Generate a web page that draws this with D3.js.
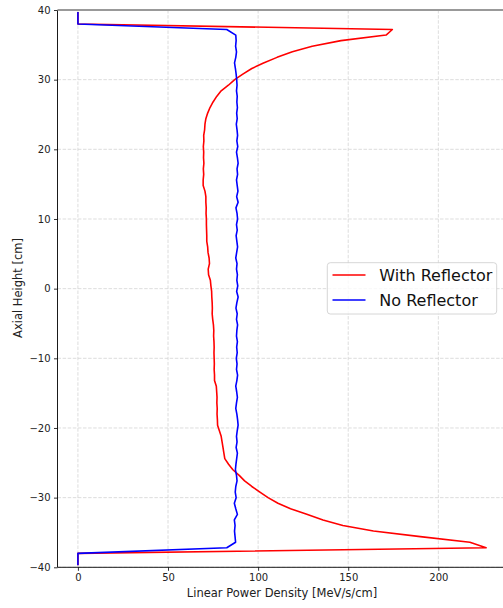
<!DOCTYPE html>
<html><head><meta charset="utf-8">
<script src="https://cdn.jsdelivr.net/npm/d3@7/dist/d3.min.js"></script>
<style>body{margin:0;background:#fff}svg{display:block;font-family:"DejaVu Sans",sans-serif}</style>
</head><body><svg id="c" width="503" height="608"></svg>
<script>
// Axial positions [cm]
const zPos = [39.7, 38.0, 37.2, 36.4, 35.6, 34.8, 34.0, 33.2, 32.4, 31.6, 30.8, 30.0, 29.2, 28.4, 27.6, 26.8, 26.0, 25.2, 24.4, 23.6, 22.8, 22.0, 21.2, 20.4, 19.6, 18.8, 18.0, 17.2, 16.4, 15.6, 14.8, 14.0, 13.2, 12.4, 11.6, 10.8, 10.0, 9.2, 8.4, 7.6, 6.8, 6.0, 5.2, 4.4, 3.6, 2.8, 2.0, 1.2, 0.4,
  -0.4, -1.2, -2.0, -2.8, -3.6, -4.4, -5.2, -6.0, -6.8, -7.6, -8.4, -9.2, -10.0, -10.8, -11.6, -12.4, -13.2, -14.0, -14.8, -15.6, -16.4, -17.2, -18.0, -18.8, -19.6, -20.4, -21.2, -22.0, -22.8, -23.6, -24.4, -25.2, -26.0, -26.8, -27.6, -28.4, -29.2, -30.0, -30.8, -31.6, -32.4, -33.2, -34.0, -34.8, -35.6, -36.4, -37.2, -38.0, -39.7];
// Linear power density, with reflector [MeV/s/cm]
const withReflector = [0, 0, 174.5, 171, 146, 130, 119, 110.5, 103, 96.5, 91.5, 87, 83.5, 79.5, 77, 75, 73.3, 72, 71, 70.5, 70.3, 69.8, 69.9, 69.6, 69.8, 69.7, 69.9, 69.6, 69.8, 69.5, 69.5, 70.5, 71.0, 71.0, 71.2, 71.1, 71.3, 71.3, 71.4, 71.5, 71.5, 72.0, 72.2, 72.8, 73.0, 72.3, 72.5, 73.5, 73.8,
  74.2, 74.3, 74.5, 74.6, 74.5, 74.8, 75.2, 75.4, 75.3, 75.5, 75.6, 75.5, 75.6, 75.7, 75.6, 75.8, 75.8, 76.8, 77.0, 77.2, 77.1, 77.3, 77.2, 77.4, 77.5, 78.5, 79.5, 80.0, 80.5, 81.0, 81.5, 83.6, 86.0, 89.5, 92.5, 96.5, 101, 105.5, 111, 118, 127, 136, 147, 164, 190, 217.5, 226.5, 0, 0];
// Linear power density, no reflector [MeV/s/cm]
const noReflector = [0, 0, 82.6, 87.6, 87.8, 87.5, 88.0, 87.6, 86.9, 87.4, 87.8, 88.1, 88.3, 88.0, 88.4, 88.2, 88.5, 88.1, 88.4, 87.9, 88.3, 88.6, 88.2, 88.7, 88.0, 88.5, 88.9, 88.3, 88.6, 88.0, 88.4, 88.8, 88.1, 88.9, 87.7, 88.3, 88.6, 88.0, 88.4, 87.8, 88.2, 88.6, 88.1, 87.6, 88.3, 88.0, 88.5, 88.2, 88.7,
  88.1, 88.9, 88.2, 87.7, 88.4, 88.0, 88.6, 88.2, 88.0, 88.5, 88.1, 88.4, 87.9, 88.3, 88.0, 88.6, 88.2, 87.6, 88.1, 88.5, 88.0, 87.6, 88.2, 88.6, 88.9, 88.4, 88.0, 88.3, 87.8, 88.5, 88.1, 87.7, 87.4, 88.0, 88.3, 87.6, 87.3, 87.8, 86.8, 87.6, 88.5, 86.8, 87.2, 86.9, 87.2, 87.5, 82.6, 0, 0];
const xTicks = [0, 50, 100, 150, 200];
const yTicks = [-40, -30, -20, -10, 0, 10, 20, 30, 40];
const seriesNames = ["With Reflector", "No Reflector"];
const seriesColors = ["#ff0000", "#0000ff"];

const svg = d3.select("#c");
const L = 57.5, T = 10, B = 567.3;
const x = d3.scaleLinear().domain([-11.33, 237.83]).range([L, 506.5]);
const y = d3.scaleLinear().domain([-40, 40]).range([B, T]);
const fmt = v => (v < 0 ? "\u2212" + Math.abs(v) : "" + v);

// grid
const g = svg.append("g");
g.selectAll(".gx").data(xTicks).join("line")
  .attr("x1", d => x(d)).attr("x2", d => x(d)).attr("y1", T).attr("y2", B)
  .attr("stroke", "#d4d4d4").attr("stroke-width", 0.8).attr("stroke-dasharray", "3.5,1.6");
g.selectAll(".gy").data(yTicks).join("line")
  .attr("x1", L).attr("x2", 503).attr("y1", d => y(d)).attr("y2", d => y(d))
  .attr("stroke", "#d4d4d4").attr("stroke-width", 0.8).attr("stroke-dasharray", "3.5,1.6");

svg.append("clipPath").attr("id", "clip").append("rect")
  .attr("x", L).attr("y", T - 1).attr("width", 503 - L).attr("height", B - T + 2);

const line = d3.line().x(d => x(d[1])).y(d => y(d[0]));
[withReflector, noReflector].forEach((vals, i) => {
  svg.append("path").attr("clip-path", "url(#clip)")
    .attr("d", line(zPos.map((z, k) => [z, vals[k]])))
    .attr("fill", "none").attr("stroke", seriesColors[i]).attr("stroke-width", 1.6)
    .attr("stroke-linejoin", "round");
});

// axes
const ax = svg.append("g").attr("transform", `translate(0,${B})`)
  .call(d3.axisBottom(x).tickValues(xTicks).tickFormat(fmt).tickSize(3.5).tickPadding(3.5));
const ay = svg.append("g").attr("transform", `translate(${L},0)`)
  .call(d3.axisLeft(y).tickValues(yTicks).tickFormat(fmt).tickSize(3.5).tickPadding(3.5));
[ax, ay].forEach(a => {
  a.select(".domain").remove();
  a.selectAll("text").attr("font-size", 10).attr("fill", "#222").attr("font-family", "DejaVu Sans");
  a.selectAll("line").attr("stroke", "#000").attr("stroke-width", 0.8);
});
svg.append("line").attr("x1", L).attr("x2", L).attr("y1", T).attr("y2", B).attr("stroke", "#000").attr("stroke-width", 0.9);
svg.append("line").attr("x1", L).attr("x2", 503).attr("y1", B).attr("y2", B).attr("stroke", "#000").attr("stroke-width", 0.9);
svg.append("line").attr("x1", L).attr("x2", 503).attr("y1", T).attr("y2", T).attr("stroke", "#999").attr("stroke-width", 2);

svg.append("text").attr("x", 282).attr("y", 597).attr("text-anchor", "middle")
  .attr("font-size", 11.5).attr("fill", "#222").text("Linear Power Density [MeV/s/cm]");
svg.append("text").attr("transform", "translate(22,288) rotate(-90)").attr("text-anchor", "middle")
  .attr("font-size", 11.5).attr("fill", "#222").text("Axial Height [cm]");

// legend
const lg = svg.append("g");
lg.append("rect").attr("x", 327.3).attr("y", 262.7).attr("width", 169.4).attr("height", 51.3)
  .attr("rx", 3).attr("fill", "#fff").attr("fill-opacity", 0.8).attr("stroke", "#ccc").attr("stroke-width", 0.8);
seriesNames.forEach((n, i) => {
  const yy = 275 + i * 25;
  lg.append("line").attr("x1", 332.5).attr("x2", 365.5).attr("y1", yy).attr("y2", yy)
    .attr("stroke", seriesColors[i]).attr("stroke-width", 1.6);
  lg.append("text").attr("x", 379.3).attr("y", yy + 5.5).attr("font-size", 16).attr("fill", "#111").text(n);
});
</script></body></html>
